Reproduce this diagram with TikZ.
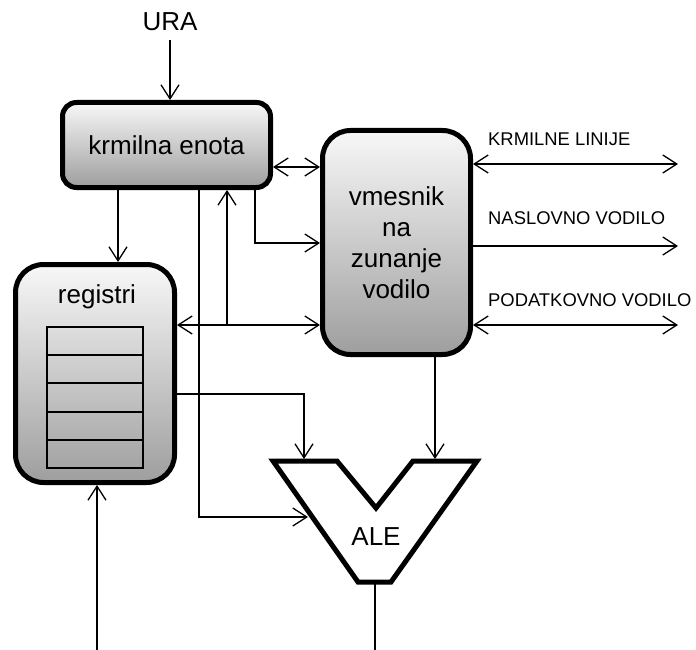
\documentclass[tikz,border=0pt]{standalone}
\usepackage{fontspec}
\setmainfont{Liberation Sans}
\usetikzlibrary{arrows.meta}
\begin{document}
\begin{tikzpicture}[x=1pt,y=-1pt,
  box/.style={draw, line width=5pt, rounded corners=#1, top color=black!3, bottom color=black!38, align=center, inner sep=0pt},
  big/.style={font=\fontsize{26}{31}\selectfont},
  small/.style={font=\fontsize{18.4}{22}\selectfont, anchor=west, inner sep=0pt},
  conn/.style={line width=1.3pt},
  arr/.style={conn, -{Straight Barb[length=14pt,width=18pt]}},
  darr/.style={conn, {Straight Barb[length=14pt,width=18pt]}-{Straight Barb[length=14pt,width=18pt]}},
  cell/.style={draw=black, line width=1.6pt},
]
\path[fill=white] (0,0) rectangle (696,650);
\useasboundingbox (0,0) rectangle (696,650);

% nodes
\node[big, inner sep=2pt] (ura) at (170,22) {URA};
\node[box=14pt, minimum width=208pt, minimum height=85pt, big] (krm) at (166.5,145) {krmilna enota};
\node[box=28pt, minimum width=148pt, minimum height=224pt, big] (vm) at (396.5,242.5) {vmesnik\\na\\zunanje\\vodilo};
\node[box=28pt, minimum width=159pt, minimum height=218pt] (reg) at (95,373.5) {};
\node[big, inner sep=0pt] (regl) at (97,297) {registri};

% register cells
\draw[cell] (47,327) rectangle (143,468);
\draw[cell] (47,355) -- (143,355);
\draw[cell] (47,383) -- (143,383);
\draw[cell] (47,412) -- (143,412);
\draw[cell] (47,440) -- (143,440);

% ALE
\draw[line width=5pt, line join=miter] (273,461) -- (337,461) -- (376,508) -- (413,461) -- (477,461) -- (391,582) -- (358,582) -- cycle;
\node[big, inner sep=0pt] (ale) at (376,537) {ALE};

% labels on the right
\node[small] (l1) at (488,139) {KRMILNE LINIJE};
\node[small] (l2) at (488,218) {NASLOVNO VODILO};
\node[small] (l3) at (488,300) {PODATKOVNO VODILO};

% helper coordinates
\coordinate (c118) at (118,0);
\coordinate (c199) at (199,0);
\coordinate (c227) at (227,0);
\coordinate (c255) at (255,0);
\coordinate (h1) at (0,167);
\coordinate (h2) at (0,243);
\coordinate (bus) at (0,325);
\coordinate (h3) at (0,394);
\coordinate (r1) at (0,164);
\coordinate (r2) at (0,246);
\coordinate (r3) at (0,325);
\coordinate (e1) at (678,164);
\coordinate (e2) at (678,246);
\coordinate (e3) at (678,325);
\coordinate (aleA) at (304,459);
\coordinate (aleB) at (435,459);
\coordinate (aleL) at (308,517);
\coordinate (aleO) at (375,584);
\coordinate (outB) at (375,650);
\coordinate (inB) at (97,650);

% connectors
\draw[arr] ([yshift=-7pt]ura.south) -- (ura.south |- krm.north);
\draw[darr] (krm.east |- h1) -- (vm.west |- h1);
\draw[arr] (krm.south -| c118) -- (reg.north -| c118);
\draw[arr] (krm.south -| c199) |- (aleL);
\draw[arr] (c227 |- bus) -- (krm.south -| c227);
\draw[arr] (krm.south -| c255) |- (vm.west |- h2);
\draw[darr] (reg.east |- bus) -- (vm.west |- bus);
\draw[arr] (reg.east |- h3) -| (aleA);
\draw[arr] (vm.south -| aleB) -- (aleB);
\draw[conn] (aleO) -- (outB);
\draw[arr] (inB) -- (reg.south -| inB);

\draw[darr] (vm.east |- r1) -- (e1);
\draw[arr] (vm.east |- r2) -- (e2);
\draw[darr] (vm.east |- r3) -- (e3);
\end{tikzpicture}
\end{document}
